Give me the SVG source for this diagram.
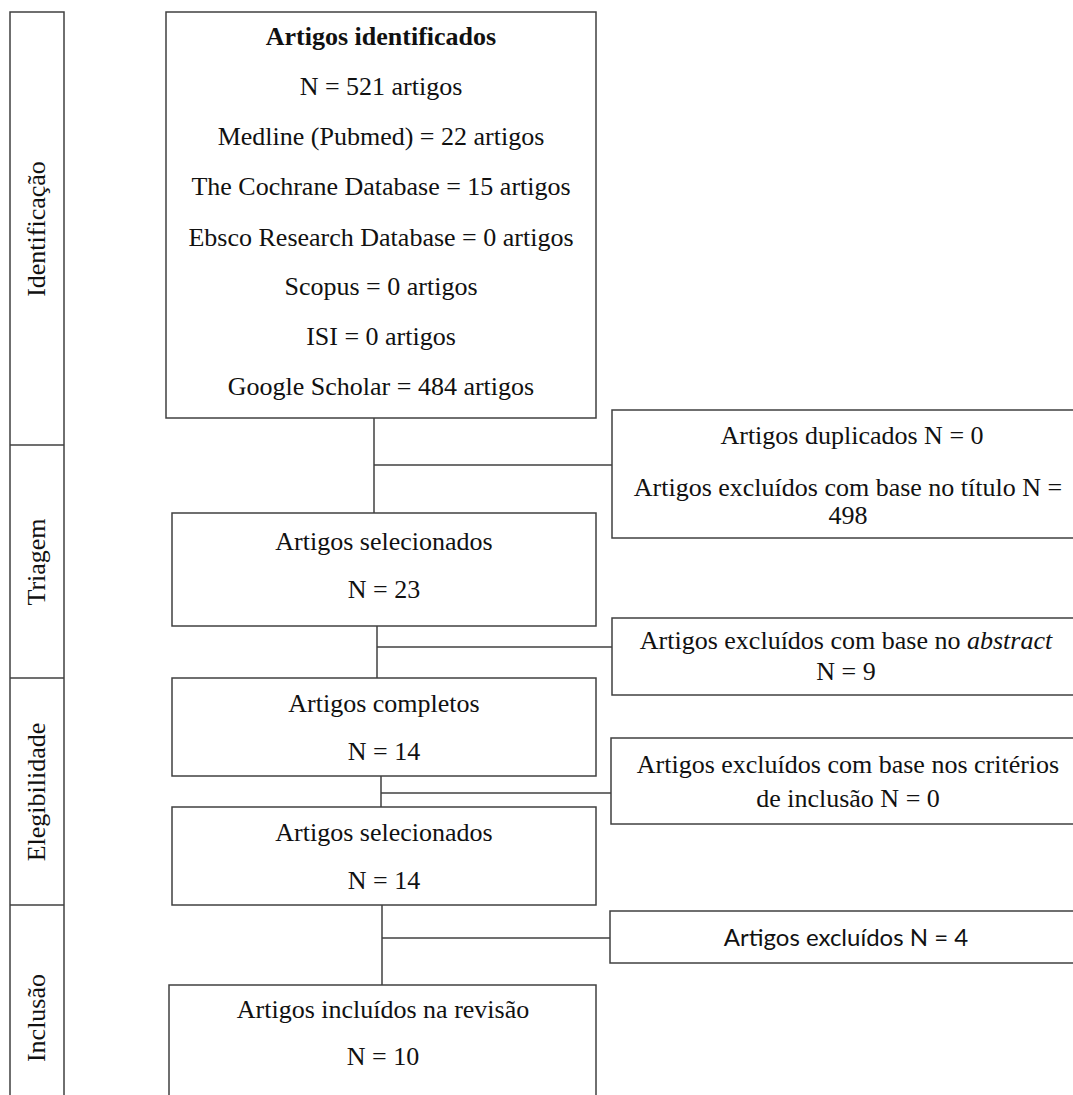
<svg xmlns="http://www.w3.org/2000/svg" width="1073" height="1095" viewBox="0 0 1073 1095">
<style>
.b{fill:#fff;stroke:#404040;stroke-width:1.5}
.t{font-family:"Liberation Serif","Times New Roman",serif;font-size:26px;fill:#111;text-anchor:middle}
.s{font-family:Lato,"Open Sans",sans-serif;font-size:24px;fill:#111;text-anchor:middle}
.c{fill:none;stroke:#404040;stroke-width:1.5}
</style>
<rect width="1073" height="1095" fill="#fff"/>
<g id="phases">
<rect class="b" x="10" y="12" width="54" height="1100"/>
<line class="c" x1="10" y1="445" x2="64" y2="445"/>
<line class="c" x1="10" y1="678" x2="64" y2="678"/>
<line class="c" x1="10" y1="905" x2="64" y2="905"/>
<text class="t" transform="translate(45,229) rotate(-90)">Identificação</text>
<text class="t" transform="translate(45,562) rotate(-90)">Triagem</text>
<text class="t" transform="translate(45,792) rotate(-90)">Elegibilidade</text>
<text class="t" transform="translate(45,1018) rotate(-90)">Inclusão</text>
</g>
<g id="connectors">
<line class="c" x1="374" y1="418" x2="374" y2="513"/>
<line class="c" x1="374" y1="465" x2="612" y2="465"/>
<line class="c" x1="377" y1="626" x2="377" y2="678"/>
<line class="c" x1="377" y1="647" x2="612" y2="647"/>
<line class="c" x1="381" y1="776" x2="381" y2="807"/>
<line class="c" x1="381" y1="793" x2="611" y2="793"/>
<line class="c" x1="382" y1="905" x2="382" y2="985"/>
<line class="c" x1="382" y1="938" x2="610" y2="938"/>
</g>
<g id="identificados">
<rect class="b" x="166" y="12" width="430" height="406"/>
<text class="t" x="381" y="45" font-weight="bold">Artigos identificados</text>
<text class="t" x="381" y="95">N = 521 artigos</text>
<text class="t" x="381" y="145">Medline (Pubmed) = 22 artigos</text>
<text class="t" x="381" y="195">The Cochrane Database = 15 artigos</text>
<text class="t" x="381" y="246">Ebsco Research Database = 0 artigos</text>
<text class="t" x="381" y="295">Scopus = 0 artigos</text>
<text class="t" x="381" y="345">ISI = 0 artigos</text>
<text class="t" x="381" y="395">Google Scholar = 484 artigos</text>
</g>
<g id="duplicados">
<rect class="b" x="612" y="410" width="470" height="128"/>
<text class="t" x="852" y="444">Artigos duplicados N = 0</text>
<text class="t" x="848" y="496">Artigos excluídos com base no título N =</text>
<text class="t" x="848" y="524">498</text>
</g>
<g id="selecionados1">
<rect class="b" x="172" y="513" width="424" height="113"/>
<text class="t" x="384" y="550">Artigos selecionados</text>
<text class="t" x="384" y="598">N = 23</text>
</g>
<g id="abstract">
<rect class="b" x="612" y="618" width="470" height="77"/>
<text class="t" x="846" y="649">Artigos excluídos com base no <tspan font-style="italic">abstract</tspan></text>
<text class="t" x="846" y="680">N = 9</text>
</g>
<g id="completos">
<rect class="b" x="172" y="678" width="424" height="98"/>
<text class="t" x="384" y="712">Artigos completos</text>
<text class="t" x="384" y="760">N = 14</text>
</g>
<g id="criterios">
<rect class="b" x="611" y="738" width="470" height="86"/>
<text class="t" x="848" y="773">Artigos excluídos com base nos critérios</text>
<text class="t" x="848" y="807">de inclusão N = 0</text>
</g>
<g id="selecionados2">
<rect class="b" x="172" y="807" width="424" height="98"/>
<text class="t" x="384" y="841">Artigos selecionados</text>
<text class="t" x="384" y="889">N = 14</text>
</g>
<g id="excluidos">
<rect class="b" x="610" y="911" width="470" height="52"/>
<text class="s" x="846" y="946">Artigos excluídos N = 4</text>
</g>
<g id="incluidos">
<rect class="b" x="169" y="985" width="427" height="130"/>
<text class="t" x="383" y="1018">Artigos incluídos na revisão</text>
<text class="t" x="383" y="1065">N = 10</text>
</g>
</svg>
